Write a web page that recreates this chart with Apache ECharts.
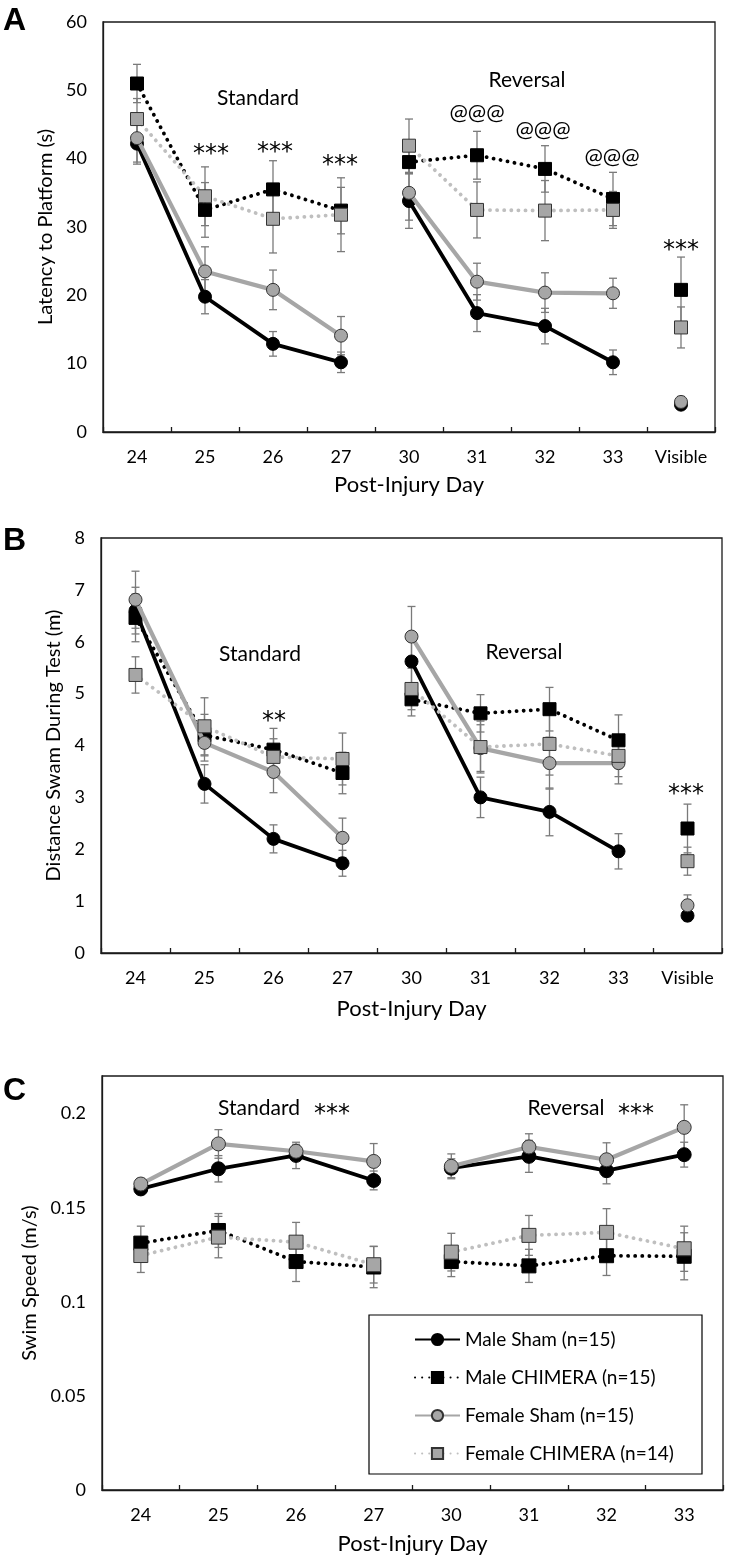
<!DOCTYPE html>
<html><head><meta charset="utf-8">
<script src="https://cdn.jsdelivr.net/npm/echarts@6/dist/echarts.min.js"></script>
<style>html,body{margin:0;padding:0;background:#fff}#c{width:733px;height:1560px}</style>
</head><body><div id="c"></div>
<script>
// ---------- categories ----------
const daysAB = ['24','25','26','27','30','31','32','33','Visible'];
const daysC = ['24','25','26','27','30','31','32','33'];
const groupNames = ['Male Sham (n=15)','Male CHIMERA (n=15)','Female Sham (n=15)','Female CHIMERA (n=14)'];

// ---------- Panel A: Latency to platform (s) ----------
const latMaleSham      = [42.2, 19.8, 12.9, 10.2, 33.8, 17.4, 15.5, 10.2, 4.0];
const latMaleChimera   = [51.0, 32.5, 35.5, 32.4, 39.5, 40.5, 38.5, 34.1, 20.8];
const latFemaleSham    = [43.0, 23.5, 20.8, 14.1, 35.0, 22.0, 20.4, 20.3, 4.4];
const latFemaleChimera = [45.8, 34.5, 31.2, 31.8, 41.9, 32.5, 32.4, 32.5, 15.3];
const latErrMaleSham      = [3.0, 2.5, 1.8, 1.5, 4.0, 2.7, 2.6, 1.8, 0.5];
const latErrMaleChimera   = [2.8, 4.0, 4.2, 3.4, 1.7, 3.5, 3.4, 3.9, 4.8];
const latErrFemaleSham    = [3.5, 3.6, 2.9, 2.8, 4.0, 2.7, 2.9, 2.2, 0.8];
const latErrFemaleChimera = [3.0, 4.3, 5.0, 5.4, 3.9, 4.1, 4.4, 2.7, 3.0];

// ---------- Panel B: Distance swam (m) ----------
const distMaleSham      = [6.60, 3.26, 2.20, 1.73, 5.62, 3.00, 2.72, 1.96, 0.72];
const distMaleChimera   = [6.46, 4.20, 3.92, 3.47, 4.89, 4.62, 4.70, 4.10, 2.40];
const distFemaleSham    = [6.81, 4.05, 3.49, 2.22, 6.10, 3.95, 3.66, 3.66, 0.92];
const distFemaleChimera = [5.36, 4.37, 3.78, 3.74, 5.09, 3.97, 4.03, 3.80, 1.77];
const distErrMaleSham      = [0.45, 0.37, 0.27, 0.25, 0.50, 0.39, 0.46, 0.34, 0.10];
const distErrMaleChimera   = [0.46, 0.40, 0.41, 0.40, 0.32, 0.36, 0.42, 0.49, 0.47];
const distErrFemaleSham    = [0.55, 0.35, 0.40, 0.38, 0.58, 0.45, 0.50, 0.40, 0.20];
const distErrFemaleChimera = [0.35, 0.55, 0.35, 0.50, 0.40, 0.50, 0.60, 0.40, 0.27];

// ---------- Panel C: Swim speed (m/s) ----------
const spdMaleSham      = [0.160, 0.1707, 0.1778, 0.1645, 0.171, 0.1773, 0.1697, 0.1782];
const spdMaleChimera   = [0.1312, 0.1379, 0.1214, 0.1185, 0.1214, 0.1191, 0.1245, 0.1242];
const spdFemaleSham    = [0.1626, 0.1839, 0.1800, 0.1746, 0.172, 0.1823, 0.1755, 0.1927];
const spdFemaleChimera = [0.1246, 0.1344, 0.1317, 0.1197, 0.1264, 0.1353, 0.1369, 0.1282];
const spdErrMaleSham      = [0.003, 0.007, 0.007, 0.005, 0.005, 0.0085, 0.007, 0.0066];
const spdErrMaleChimera   = [0.009, 0.009, 0.0106, 0.011, 0.008, 0.0088, 0.0105, 0.0125];
const spdErrFemaleSham    = [0.003, 0.0076, 0.0037, 0.0095, 0.0066, 0.007, 0.009, 0.012];
const spdErrFemaleChimera = [0.009, 0.011, 0.0105, 0.0097, 0.010, 0.0106, 0.0126, 0.012];

// ---------- styles ----------
const FONT = 'Lato';
const styles = [
  {symbol:'circle', line:{color:'#000', width:3.8, type:'solid'}, item:{color:'#000', borderColor:'#000', borderWidth:1}},
  {symbol:'rect',   line:{color:'#000', width:3.8, type:[0.1,7], cap:'round'}, item:{color:'#000', borderColor:'#000', borderWidth:1}},
  {symbol:'circle', line:{color:'#a6a6a6', width:4.2, type:'solid'}, item:{color:'#a6a6a6', borderColor:'#333', borderWidth:1}},
  {symbol:'rect',   line:{color:'#bfbfbf', width:3.8, type:[0.1,7], cap:'round'}, item:{color:'#a6a6a6', borderColor:'#333', borderWidth:1}}
];

const panels = [
  {vals:[latMaleSham, latMaleChimera, latFemaleSham, latFemaleChimera],
   errs:[latErrMaleSham, latErrMaleChimera, latErrFemaleSham, latErrFemaleChimera],
   segs:[[0,3],[4,7],[8,8]], size:13},
  {vals:[distMaleSham, distMaleChimera, distFemaleSham, distFemaleChimera],
   errs:[distErrMaleSham, distErrMaleChimera, distErrFemaleSham, distErrFemaleChimera],
   segs:[[0,3],[4,7],[8,8]], size:13},
  {vals:[spdMaleSham, spdMaleChimera, spdFemaleSham, spdFemaleChimera],
   errs:[spdErrMaleSham, spdErrMaleChimera, spdErrFemaleSham, spdErrFemaleChimera],
   segs:[[0,3],[4,7]], size:14}
];

function seg(arr, a, b){ return arr.map((v,i)=> (i>=a && i<=b) ? v : '-'); }

function errRender(params, api){
  const x = api.value(0), y = api.value(1), e = api.value(2);
  const t = api.coord([x, y+e]), b = api.coord([x, y-e]);
  const hw = 4, st = {stroke:'#7a7a7a', lineWidth:1.3};
  return {type:'group', children:[
    {type:'line', shape:{x1:t[0],y1:t[1],x2:b[0],y2:b[1]}, style:st},
    {type:'line', shape:{x1:t[0]-hw,y1:t[1],x2:t[0]+hw,y2:t[1]}, style:st},
    {type:'line', shape:{x1:b[0]-hw,y1:b[1],x2:b[0]+hw,y2:b[1]}, style:st}
  ]};
}

const series = [];
panels.forEach((p, pi)=>{
  p.vals.forEach((arr, g)=>{
    series.push({type:'custom', xAxisIndex:pi, yAxisIndex:pi, z:1, silent:true,
      renderItem: errRender, encode:{x:0, y:1},
      data: arr.map((v,i)=>[i, v, p.errs[g][i]])});
  });
  p.vals.forEach((arr, g)=>{
    const s = styles[g];
    p.segs.forEach(([a,b])=>{
      series.push({type:'line', name:groupNames[g], xAxisIndex:pi, yAxisIndex:pi,
        z: 3+g, data: seg(arr,a,b), symbol:s.symbol, symbolSize:p.size, showSymbol:true,
        lineStyle:s.line, itemStyle:s.item, connectNulls:false, animation:false});
    });
  });
});

const axisCol = '#1a1a1a';
function xAx(gi, data, nameGap){
  return {type:'category', gridIndex:gi, data, boundaryGap:true,
    axisLine:{show:true, lineStyle:{color:axisCol, width:1.3}},
    axisTick:{show:true, inside:true, length:5, interval:0, alignWithLabel:false, lineStyle:{color:axisCol, width:1.3}},
    axisLabel:{margin:16, interval:0, fontSize:18, color:'#000', fontFamily:FONT},
    splitLine:{show:false},
    name:'Post-Injury Day', nameLocation:'middle', nameGap,
    nameTextStyle:{fontSize:22, color:'#000', fontFamily:FONT}};
}
function yAx(gi, min, max, interval, name, nameGap, fmt){
  return {type:'value', gridIndex:gi, min, max, interval,
    axisLine:{show:true, lineStyle:{color:axisCol, width:1.3}},
    axisTick:{show:false}, splitLine:{show:false},
    axisLabel:{margin:16, fontSize:18, color:'#000', fontFamily:FONT, formatter:fmt},
    name, nameLocation:'middle', nameGap,
    nameTextStyle:{fontSize:20, color:'#000', fontFamily:FONT}};
}

function txt(x, y, s, size){
  return {type:'text', x, y, style:{text:s, fontSize:size||21, fontFamily:FONT, fill:'#000', textAlign:'center', textVerticalAlign:'middle'}, z:50};
}
function stars(x, y, s){
  return {type:'text', x, y: y+7, style:{text:s, fontSize:24, fontFamily:'DejaVu Sans', fill:'#000', textAlign:'center', textVerticalAlign:'middle'}, z:50};
}
function letter(x, y, s){
  return {type:'text', x, y, style:{text:s, fontSize:32, fontWeight:'bold', fontFamily:'Liberation Sans', fill:'#000', textAlign:'left', textVerticalAlign:'middle'}, z:50};
}

const option = {
  animation:false,
  backgroundColor:'#fff',
  grid:[
    {left:103, top:22, width:612, height:410, show:true, borderColor:axisCol, borderWidth:1.3},
    {left:101, top:538, width:621, height:415, show:true, borderColor:axisCol, borderWidth:1.3},
    {left:102, top:1076, width:621, height:414, show:true, borderColor:axisCol, borderWidth:1.3}
  ],
  xAxis:[xAx(0, daysAB, 42), xAx(1, daysAB, 45), xAx(2, daysC, 43)],
  yAxis:[
    yAx(0, 0, 60, 10, 'Latency to Platform (s)', 44),
    yAx(1, 0, 8, 1, 'Distance Swam During Test (m)', 36),
    yAx(2, 0, 0.22, 0.05, 'Swim Speed (m/s)', 62, v => v > 0.21 ? '' : String(+v.toFixed(2)))
  ],
  legend:{
    data:groupNames, orient:'vertical', left:409, top:1325, itemWidth:45, itemHeight:14, itemGap:19,
    textStyle:{fontSize:19, color:'#000', fontFamily:FONT}, selectedMode:false, z:20
  },
  graphic:[
    letter(3, 21, 'A'), letter(3, 541, 'B'), letter(3, 1091, 'C'),
    txt(258, 98, 'Standard'),
    stars(211, 148, '***'), stars(275, 146, '***'), stars(340, 159, '***'),
    txt(527, 80, 'Reversal'),
    txt(477, 113, '@@@', 22), txt(543, 130, '@@@', 22), txt(612, 157, '@@@', 22),
    stars(681, 244, '***'),
    txt(260, 654, 'Standard'), stars(274, 715, '**'),
    txt(524, 652, 'Reversal'), stars(686, 788, '***'),
    txt(259, 1108, 'Standard'), stars(332, 1108, '***'),
    txt(566, 1108, 'Reversal'), stars(636, 1108, '***'),
    {type:'rect', shape:{x:369, y:1315, width:333, height:159}, style:{fill:'#fff', stroke:'#000', lineWidth:1.2}, z:10}
  ],
  series
};
const chart = echarts.init(document.getElementById('c'), null, {renderer:'canvas'});
chart.setOption(option);
</script></body></html>
